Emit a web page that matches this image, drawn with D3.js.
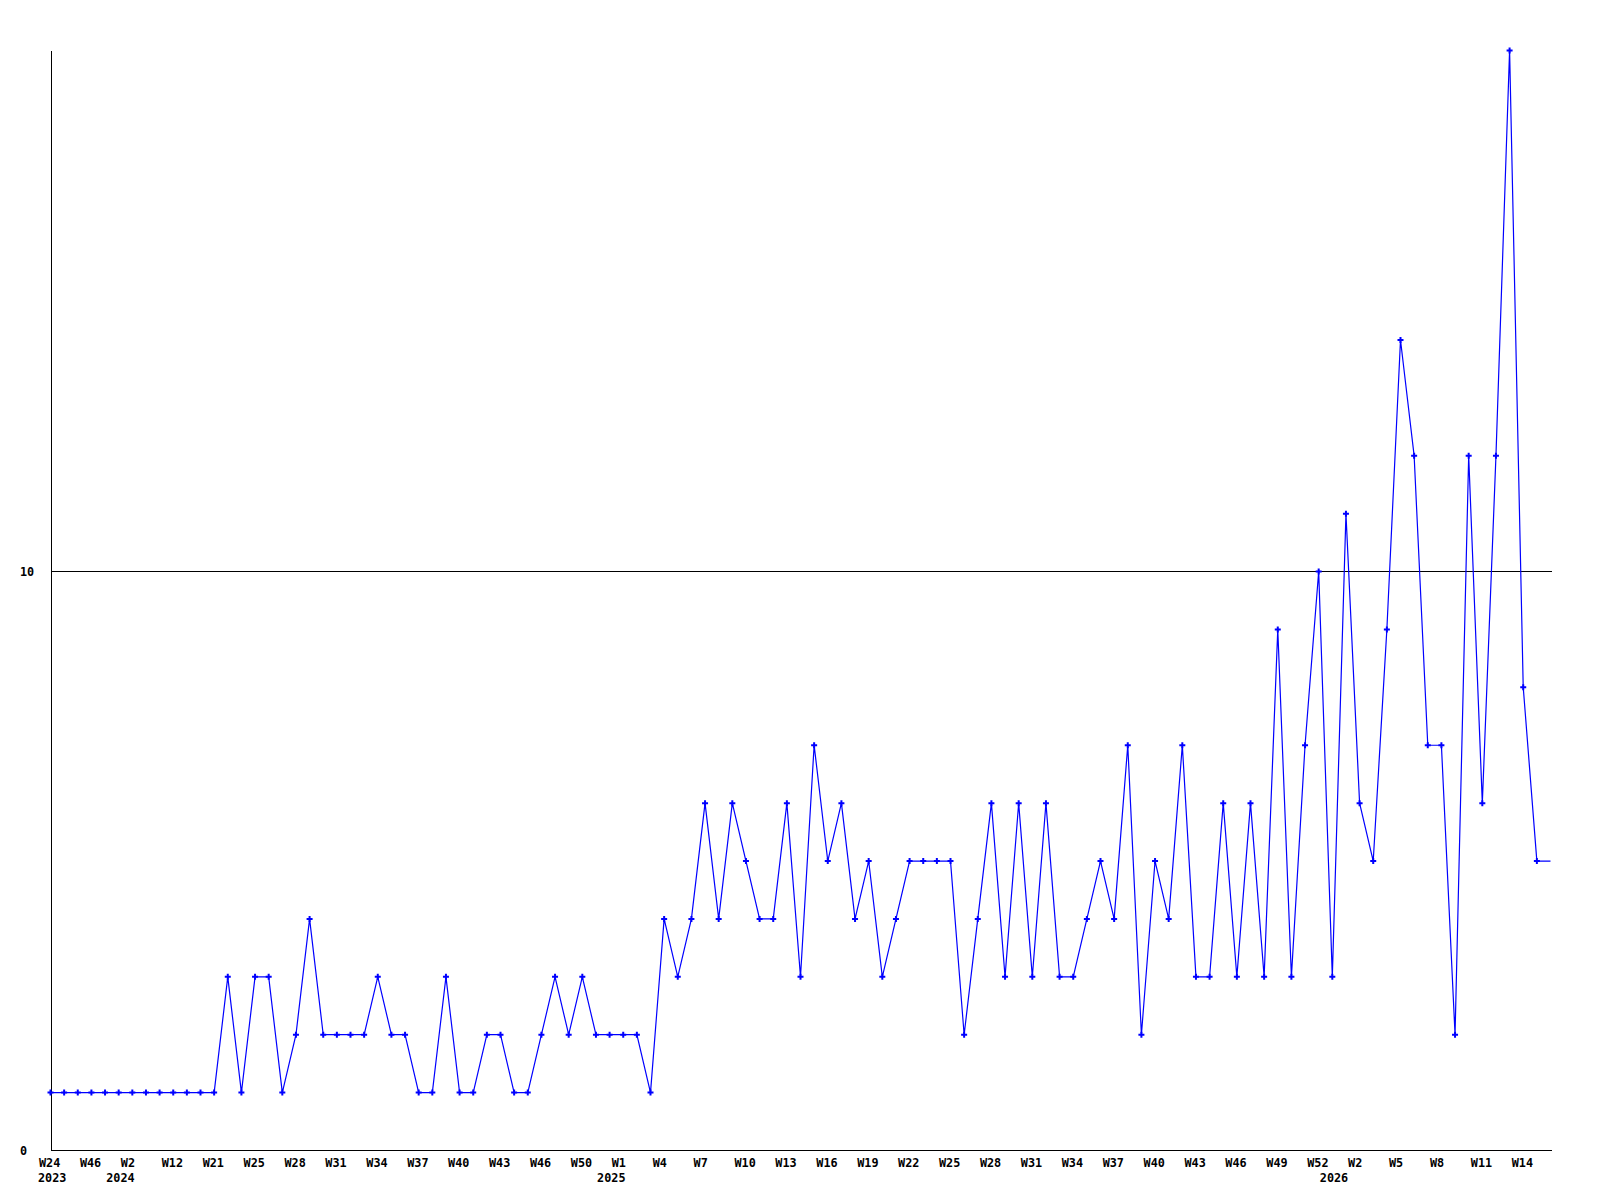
<!DOCTYPE html>
<html>
<head>
<meta charset="utf-8">
<script src="https://cdn.jsdelivr.net/npm/d3@7"></script>
<style>
  html, body { margin: 0; padding: 0; background: #ffffff; }
  svg { display: block; }
  text { font-family: "DejaVu Sans Mono", "Liberation Mono", monospace; font-weight: bold; font-size: 11.8px; fill: #000; }
</style>
</head>
<body>
<svg id="chart" width="1600" height="1200"></svg>
<script>
// ---- data ----
const categories = [
  "2023-W24","2023-W33","2023-W40","2023-W46","2023-W49","2023-W51","2024-W2","2024-W5","2024-W8","2024-W12",
  "2024-W15","2024-W18","2024-W21","2024-W22","2024-W23","2024-W25","2024-W26","2024-W27","2024-W28","2024-W29",
  "2024-W30","2024-W31","2024-W32","2024-W33","2024-W34","2024-W35","2024-W36","2024-W37","2024-W38","2024-W39",
  "2024-W40","2024-W41","2024-W42","2024-W43","2024-W44","2024-W45","2024-W46","2024-W47","2024-W48","2024-W50",
  "2024-W51","2024-W52","2025-W1","2025-W2","2025-W3","2025-W4","2025-W5","2025-W6","2025-W7","2025-W8",
  "2025-W9","2025-W10","2025-W11","2025-W12","2025-W13","2025-W14","2025-W15","2025-W16","2025-W17","2025-W18",
  "2025-W19","2025-W20","2025-W21","2025-W22","2025-W23","2025-W24","2025-W25","2025-W26","2025-W27","2025-W28",
  "2025-W29","2025-W30","2025-W31","2025-W32","2025-W33","2025-W34","2025-W35","2025-W36","2025-W37","2025-W38",
  "2025-W39","2025-W40","2025-W41","2025-W42","2025-W43","2025-W44","2025-W45","2025-W46","2025-W47","2025-W48",
  "2025-W49","2025-W50","2025-W51","2025-W52","2025-W53","2026-W1","2026-W2","2026-W3","2026-W4","2026-W5",
  "2026-W6","2026-W7","2026-W8","2026-W9","2026-W10","2026-W11","2026-W12","2026-W13","2026-W14","2026-W15",
  "2026-W16"
];
const values = [
  1,1,1,1,1,1,1,1,1,1,
  1,1,1,3,1,3,3,1,2,4,
  2,2,2,2,3,2,2,1,1,3,
  1,1,2,2,1,1,2,3,2,3,
  2,2,2,2,1,4,3,4,6,4,
  6,5,4,4,6,3,7,5,6,4,
  5,3,4,5,5,5,5,2,4,6,
  3,6,3,6,3,3,4,5,4,7,
  2,5,4,7,3,3,6,3,6,3,
  9,3,7,10,3,11,6,5,9,14,
  12,7,7,2,12,6,12,19,8,5,
  5
];
const yTicks = [0, 10];
const yMax = 19;
const xTickEvery = 3;

// ---- chart ----
const svg = d3.select("#chart");
const mLeft = 50, mRight = 1550, mTop = 50, mBottom = 1150;

const x = d3.scalePoint().domain(categories).range([mLeft, mRight]).padding(0);
const y = d3.scaleLinear().domain([0, yMax]).range([mBottom, mTop]);

const g = svg.append("g").attr("transform", "translate(0.5,0.5)");

// grid line(s) above zero
g.selectAll("line.grid")
  .data(yTicks.filter(v => v > 0))
  .join("line")
  .attr("class", "grid")
  .attr("x1", mLeft).attr("x2", mRight + 1)
  .attr("y1", d => Math.round(y(d))).attr("y2", d => Math.round(y(d)))
  .attr("stroke", "#000").attr("stroke-width", 1)
  .attr("shape-rendering", "crispEdges");

// y axis
const yAxis = d3.axisLeft(y).tickValues(yTicks).tickSize(0).tickSizeOuter(0).tickFormat(d3.format("d"));
const yg = g.append("g").attr("transform", `translate(${mLeft},0)`).call(yAxis);
yg.attr("font-size", null).attr("font-family", null);
yg.select(".domain").attr("stroke", "#000").attr("shape-rendering", "crispEdges");
yg.selectAll(".tick text")
  .attr("x", 19.5 - mLeft).attr("text-anchor", "start")
  .attr("dy", "0.36em")
  .attr("fill", "#000");

// x axis
const tickCats = categories.filter((c, i) => i % xTickEvery === 0);
const xAxis = d3.axisBottom(x).tickValues(tickCats).tickSize(0).tickSizeOuter(0)
  .tickFormat(c => c.split("-")[1]);
const xg = g.append("g").attr("transform", `translate(0,${mBottom})`).call(xAxis);
xg.attr("font-size", null).attr("font-family", null);
xg.select(".domain").attr("d", `M${mLeft},0H${mRight + 1}`).attr("stroke", "#000").attr("shape-rendering", "crispEdges");
xg.selectAll(".tick text")
  .attr("text-anchor", "start").attr("x", -12).attr("y", 16.5).attr("dy", null)
  .attr("fill", "#000");

// year labels
const yearMarks = [];
categories.forEach((c, i) => {
  const yr = c.split("-")[0];
  if (i === 0 || yr !== categories[i - 1].split("-")[0]) yearMarks.push({ i, yr });
});
g.selectAll("text.year")
  .data(yearMarks)
  .join("text")
  .attr("class", "year")
  .attr("x", d => x(categories[Math.max(d.i - 1, 0)]) - 12.5)
  .attr("y", mBottom + 31.5)
  .attr("text-anchor", "start")
  .text(d => d.yr);

// line
const line = d3.line()
  .x((d, i) => x(categories[i]))
  .y(d => y(d));
g.append("path")
  .datum(values)
  .attr("fill", "none")
  .attr("stroke", "#0000ff")
  .attr("stroke-width", 1.2)
  .attr("d", line);

// markers (clipped at the plot's right edge)
const lastX = x(categories[categories.length - 1]);
svg.append("defs").append("clipPath").attr("id", "mclip")
  .append("rect").attr("x", 0).attr("y", 0).attr("width", lastX - 4).attr("height", 1200);
g.append("g").attr("clip-path", "url(#mclip)")
  .selectAll("path.m")
  .data(values)
  .join("path")
  .attr("class", "m")
  .attr("transform", (d, i) => `translate(${x(categories[i])},${y(d)})`)
  .attr("d", d3.symbol(d3.symbolCross, 20))
  .attr("fill", "#0000ff");
</script>
</body>
</html>
